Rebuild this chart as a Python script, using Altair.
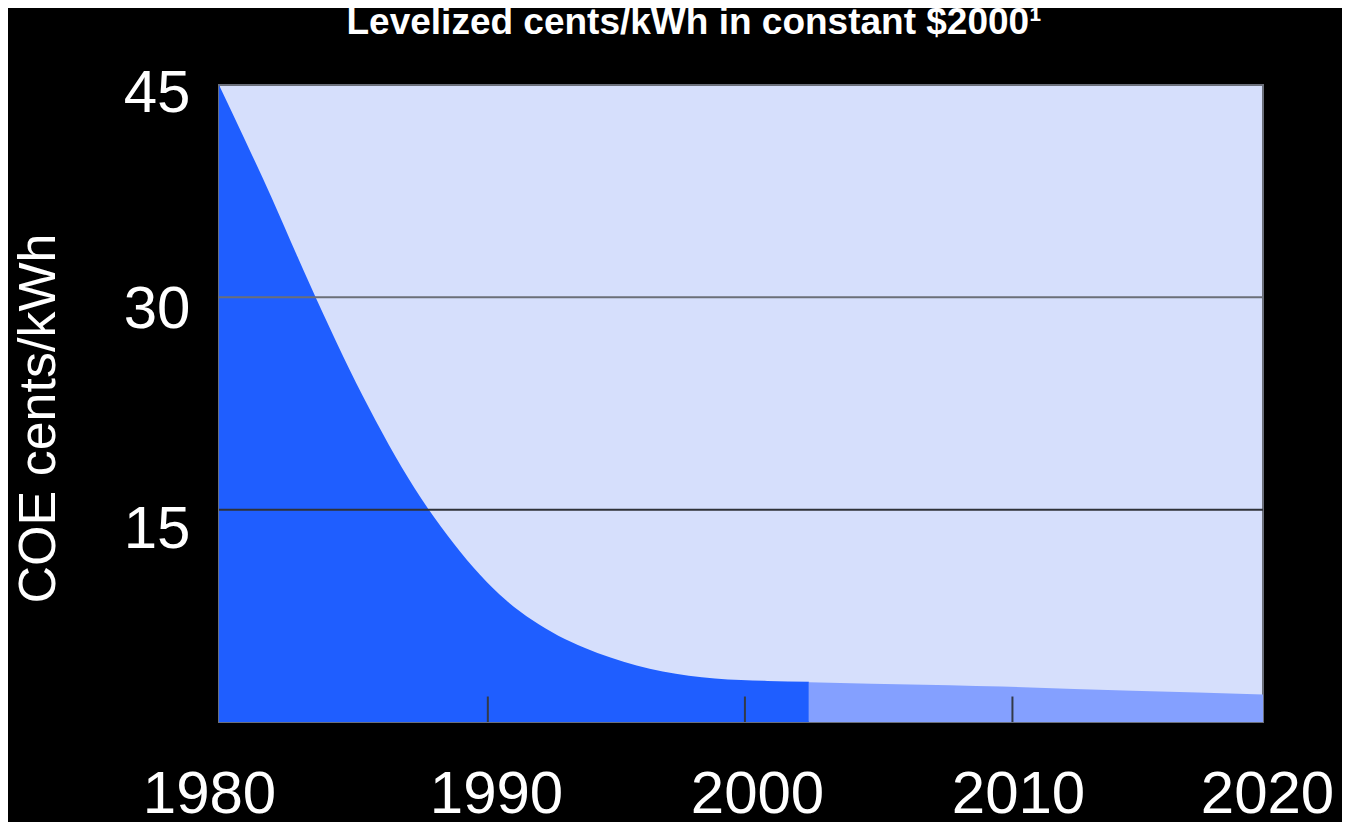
import altair as alt
import pandas as pd

# Early, steep decline (dark blue)
years_hist = [1980, 1981, 1982, 1983, 1984, 1985, 1986, 1987, 1988, 1989, 1990,
              1991, 1992, 1993, 1994, 1995, 1996, 1997, 1998, 1999, 2000, 2001, 2002.6]
cost_hist = [45.0, 41.1, 37.1, 32.9, 28.8, 24.9, 21.3, 18.0, 15.1, 12.6, 10.4,
             8.6, 7.2, 6.1, 5.25, 4.55, 4.0, 3.57, 3.27, 3.07, 2.96, 2.9, 2.85]

# Projection (light blue)
years_proj = [2002.6, 2005, 2008, 2010, 2015, 2020]
cost_proj = [2.8, 2.7, 2.6, 2.5, 2.2, 1.95]

grid_values = [15, 30]
grid_colors = ["#2f3238", "#6b6f78"]
tick_positions = [1990.3, 2000.15, 2010.4]
tick_top = 1.8

x_ticks = [1980, 1990, 2000, 2010, 2020]
y_ticks = [15, 30, 45]

hist = pd.DataFrame({"year": years_hist, "cost": cost_hist})
proj = pd.DataFrame({"year": years_proj, "cost": cost_proj})
grid = pd.DataFrame({"v": grid_values, "c": grid_colors})
ticks = pd.DataFrame({"year": tick_positions, "lo": [0] * len(tick_positions),
                      "hi": [tick_top] * len(tick_positions)})

FONT = "Liberation Sans"

x_label_offset = {
    "condition": [
        {"test": "datum.value == 1980", "value": -10},
        {"test": "datum.value == 2020", "value": 4},
    ],
    "value": 16,
}
y_label_offset = {
    "condition": [
        {"test": "datum.value == 45", "value": 8},
        {"test": "datum.value == 30", "value": 12},
    ],
    "value": 20,
}

x_enc = alt.X("year:Q",
              scale=alt.Scale(domain=[1980, 2020], nice=False, zero=False),
              axis=alt.Axis(values=x_ticks, format="d", title=None, grid=False,
                            ticks=False, domain=False, labelFontSize=60,
                            labelColor="white", labelFont=FONT, labelPadding=43,
                            labelOffset=x_label_offset, labelFlush=False,
                            labelOverlap=False))
y_scale = alt.Scale(domain=[0, 45], nice=False)

area_hist = alt.Chart(hist).mark_area(color="#1f5eff", interpolate="monotone").encode(
    x=x_enc,
    y=alt.Y("cost:Q", scale=y_scale,
            axis=alt.Axis(values=y_ticks, title="COE cents/kWh", grid=False,
                          ticks=False, domain=False, labelFontSize=60,
                          labelColor="white", labelFont=FONT, labelPadding=29,
                          labelOffset=y_label_offset, labelBaseline="middle",
                          titleFontSize=52, titleColor="white", titleFont=FONT,
                          titleFontWeight="normal", titleX=-181, titleY=333,
                          titleAlign="center", titleBaseline="middle", titleAngle=-90)),
)

area_proj = alt.Chart(proj).mark_area(color="#84a0ff", interpolate="monotone").encode(
    x="year:Q", y="cost:Q"
)

grid_rules = alt.Chart(grid).mark_rule(strokeWidth=2).encode(
    y="v:Q", color=alt.Color("c:N", scale=None)
)

tick_rules = alt.Chart(ticks).mark_rule(strokeWidth=2, color="#333a48").encode(
    x="year:Q", y="lo:Q", y2="hi:Q"
)

chart = alt.layer(area_hist, area_proj, grid_rules, tick_rules).properties(
    width=1044, height=637,
    autosize=alt.AutoSizeParams(type="none"),
    padding={"left": 211, "top": 77, "right": 79, "bottom": 100},
    background="black",
    title=alt.TitleParams(text="Levelized cents/kWh in constant $2000¹",
                          fontSize=37, fontWeight="bold", font=FONT, color="white",
                          anchor="middle", dx=-47, dy=13, offset=5, baseline="alphabetic"),
).configure_view(fill="#d6dffc", stroke="#6b6f7a", strokeWidth=2)

chart.save("out.html", embed_options={"renderer": "svg", "actions": False})
